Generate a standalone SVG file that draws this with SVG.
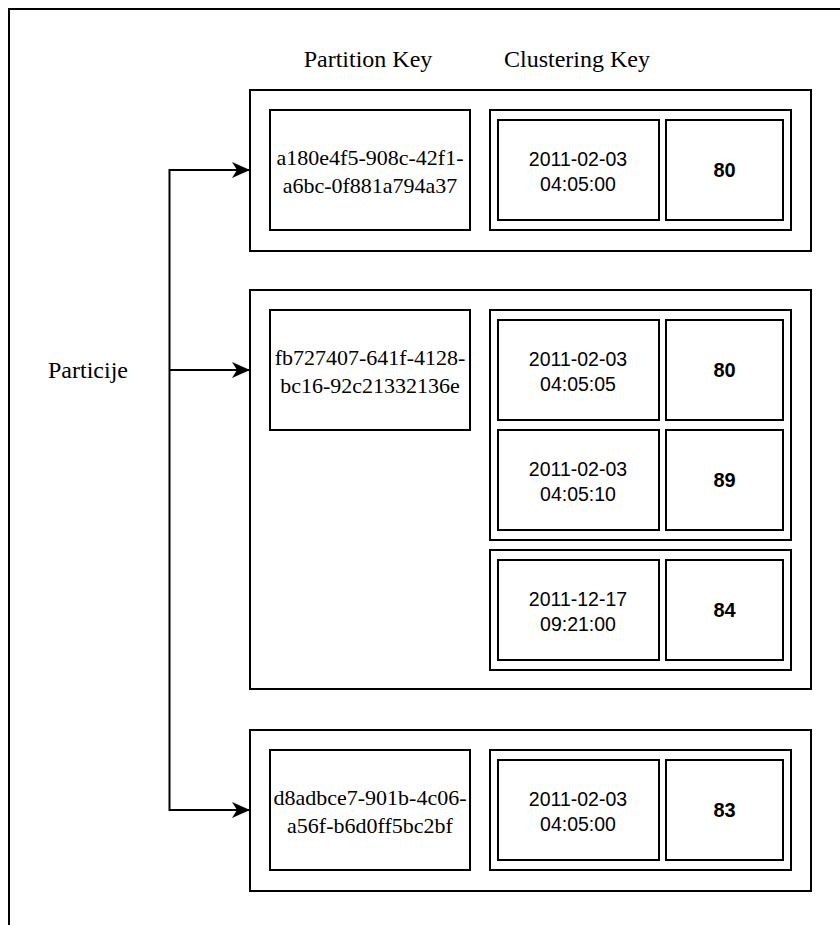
<svg xmlns="http://www.w3.org/2000/svg" width="840" height="925" viewBox="0 0 840 925">
<style>
.box{fill:#ffffff;stroke:#000000;stroke-width:2}
.frame{fill:#ffffff;stroke:#000000;stroke-width:2}
.serif{font-family:"Liberation Serif","Times New Roman",serif;fill:#000000;text-anchor:middle}
.sans{font-family:"Liberation Sans",Arial,sans-serif;fill:#000000;text-anchor:middle}
.hdr{font-size:24px}
.uuid{font-size:22px}
.date{font-size:19.5px}
.val{font-size:20px;font-weight:bold}
.conn{fill:none;stroke:#000000;stroke-width:2;marker-end:url(#arrow)}
</style>
<defs>
<marker id="arrow" viewBox="0 0 18 16" refX="17" refY="8" markerWidth="18" markerHeight="16" markerUnits="userSpaceOnUse" orient="auto">
<path d="M0,0 L18,8 L0,16 L5,8 Z" fill="#000000"/>
</marker>
</defs>
<rect class="frame" x="9" y="9" width="900" height="1000"/>
<g id="header-partition-key"><text class="serif hdr" x="368" y="67">Partition Key</text></g>
<g id="header-clustering-key"><text class="serif hdr" x="577" y="67">Clustering Key</text></g>
<g id="particije"><text class="serif hdr" x="88" y="378">Particije</text></g>

<g id="connectors">
<path class="conn" d="M169.5,370 H249"/>
<path class="conn" d="M169.5,370 V170 H249"/>
<path class="conn" d="M169.5,370 V810 H249"/>
</g>

<g id="partition1">
<rect class="box" x="250" y="90" width="561" height="161"/>
<g id="pk1"><rect class="box" x="270" y="110" width="200" height="120"/>
<text class="serif uuid" x="370" y="165">a180e4f5-908c-42f1-</text>
<text class="serif uuid" x="370" y="193">a6bc-0f881a794a37</text></g>
<g id="ck1"><rect class="box" x="490" y="110" width="301" height="120"/>
<rect class="box" x="498" y="120" width="161" height="100"/>
<text class="sans date" x="578" y="166">2011-02-03</text>
<text class="sans date" x="578" y="191">04:05:00</text>
<rect class="box" x="666" y="120" width="117" height="100"/>
<text class="sans val" x="724.5" y="177">80</text></g>
</g>

<g id="partition2">
<rect class="box" x="250" y="290" width="561" height="399"/>
<g id="pk2"><rect class="box" x="270" y="310" width="200" height="120"/>
<text class="serif uuid" x="370" y="365">fb727407-641f-4128-</text>
<text class="serif uuid" x="370" y="393">bc16-92c21332136e</text></g>
<g id="ck2a"><rect class="box" x="490" y="310" width="301" height="230"/>
<rect class="box" x="498" y="320" width="161" height="100"/>
<text class="sans date" x="578" y="366">2011-02-03</text>
<text class="sans date" x="578" y="391">04:05:05</text>
<rect class="box" x="666" y="320" width="117" height="100"/>
<text class="sans val" x="724.5" y="377">80</text>
<rect class="box" x="498" y="430" width="161" height="100"/>
<text class="sans date" x="578" y="476">2011-02-03</text>
<text class="sans date" x="578" y="501">04:05:10</text>
<rect class="box" x="666" y="430" width="117" height="100"/>
<text class="sans val" x="724.5" y="487">89</text></g>
<g id="ck2b"><rect class="box" x="490" y="550" width="301" height="120"/>
<rect class="box" x="498" y="560" width="161" height="100"/>
<text class="sans date" x="578" y="606">2011-12-17</text>
<text class="sans date" x="578" y="631">09:21:00</text>
<rect class="box" x="666" y="560" width="117" height="100"/>
<text class="sans val" x="724.5" y="617">84</text></g>
</g>

<g id="partition3">
<rect class="box" x="250" y="730" width="561" height="161"/>
<g id="pk3"><rect class="box" x="270" y="750" width="200" height="120"/>
<text class="serif uuid" x="370" y="805">d8adbce7-901b-4c06-</text>
<text class="serif uuid" x="370" y="833">a56f-b6d0ff5bc2bf</text></g>
<g id="ck3"><rect class="box" x="490" y="750" width="301" height="120"/>
<rect class="box" x="498" y="760" width="161" height="100"/>
<text class="sans date" x="578" y="806">2011-02-03</text>
<text class="sans date" x="578" y="831">04:05:00</text>
<rect class="box" x="666" y="760" width="117" height="100"/>
<text class="sans val" x="724.5" y="817">83</text></g>
</g>
</svg>
